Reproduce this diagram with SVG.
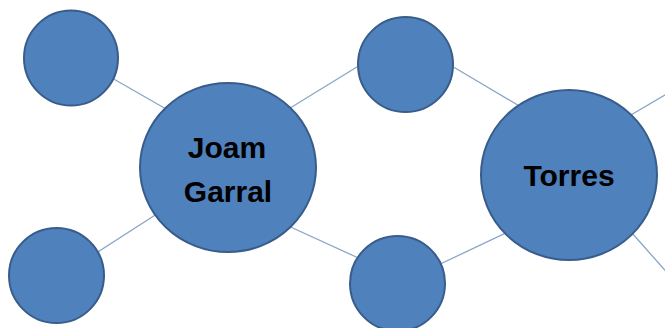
<svg xmlns="http://www.w3.org/2000/svg" width="665" height="328" viewBox="0 0 665 328">
<style>
.node{fill:#4F81BD;stroke:#385D8A;stroke-width:2}
.edge{stroke:#8AA5C6;stroke-width:1.3;fill:none}
.lbl{font-family:"Liberation Sans",Arial,sans-serif;font-weight:bold;font-size:30px;fill:#000;text-anchor:middle}
</style>
<rect width="665" height="328" fill="#fff"/>
<g id="connectors">
<line class="edge" x1="105" y1="74" x2="173" y2="113"/>
<line class="edge" x1="90" y1="257" x2="163" y2="210"/>
<line class="edge" x1="282" y1="113" x2="365" y2="62"/>
<line class="edge" x1="284" y1="224" x2="365" y2="261"/>
<line class="edge" x1="445" y1="62" x2="526" y2="110"/>
<line class="edge" x1="434" y1="267" x2="512" y2="230"/>
<line class="edge" x1="624" y1="119" x2="670" y2="92"/>
<line class="edge" x1="624" y1="224" x2="670" y2="276"/>
</g>
<g id="n-topleft"><ellipse class="node" cx="71" cy="58" rx="47" ry="47.5"/></g>
<g id="n-bottomleft"><ellipse class="node" cx="56.5" cy="275.5" rx="47.5" ry="47.5"/></g>
<g id="n-joam"><ellipse class="node" cx="228" cy="167.5" rx="88" ry="84.5"/>
<text class="lbl" x="227" y="158">Joam</text><text class="lbl" x="228" y="202">Garral</text></g>
<g id="n-topmid"><ellipse class="node" cx="405.5" cy="64.5" rx="47.5" ry="47.5"/></g>
<g id="n-bottommid"><ellipse class="node" cx="397.5" cy="283.5" rx="47.5" ry="47.5"/></g>
<g id="n-torres"><ellipse class="node" cx="569" cy="175" rx="88" ry="85"/>
<text class="lbl" x="569" y="186">Torres</text></g>
</svg>
